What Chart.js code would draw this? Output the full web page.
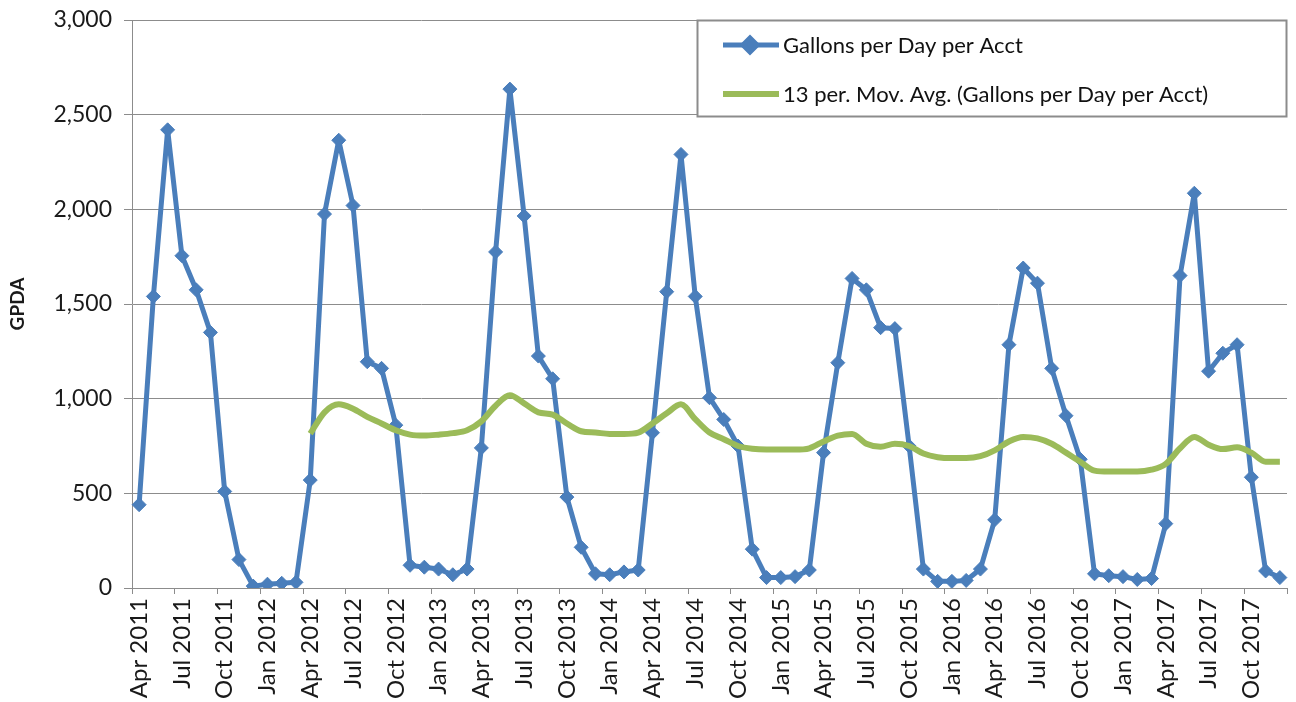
<!DOCTYPE html>
<html>
<head>
<meta charset="utf-8">
<title>GPDA</title>
<script src="https://cdn.jsdelivr.net/npm/chart.js@4.4.1/dist/chart.umd.min.js"></script>
<style>
html, body { margin:0; padding:0; background:#fff; overflow:hidden; }
#wrap { width:1296px; height:702px; position:relative; }
</style>
</head>
<body>
<div id="wrap"><canvas id="gpda-chart" width="1296" height="702"></canvas></div>
<script>
// ---- data ----
const monthNames = ['Jan','Feb','Mar','Apr','May','Jun','Jul','Aug','Sep','Oct','Nov','Dec'];
const years = [2011, 2012, 2013, 2014, 2015, 2016, 2017];
const firstMonth = 3;   // Apr 2011
const lastMonth = 11;   // Dec 2017

const categories = [];
years.forEach((y, yi) => {
    monthNames.forEach((m, mi) => {
        if (yi === 0 && mi < firstMonth) return;
        if (yi === years.length - 1 && mi > lastMonth) return;
        categories.push(m + ' ' + y);
    });
});

const gallonsPerDay = [
    440, 1540, 2420, 1755, 1575, 1350, 510, 150, 10,                  // Apr-Dec 2011
    20, 25, 30, 570, 1975, 2365, 2020, 1195, 1160, 860, 120, 110,      // 2012
    100, 70, 100, 740, 1775, 2635, 1965, 1225, 1105, 480, 215, 75,     // 2013
    70, 85, 95, 820, 1565, 2290, 1540, 1005, 890, 750, 205, 55,        // 2014
    55, 60, 95, 715, 1190, 1635, 1575, 1375, 1370, 750, 100, 35,       // 2015
    35, 40, 100, 360, 1285, 1690, 1610, 1160, 910, 680, 75, 65,        // 2016
    60, 45, 50, 340, 1650, 2085, 1145, 1240, 1285, 585, 90, 55         // 2017
];

const movingAvg = [
    null, null, null, null, null, null, null, null, null,
    null, null, null, 815, 928, 970, 947, 904, 869, 833, 810, 805,
    810, 818, 833, 880, 963, 1018, 975, 928, 916, 869, 828, 821,
    814, 814, 821, 869, 923, 970, 892, 821, 786, 750, 735, 731,
    731, 731, 738, 774, 805, 814, 762, 746, 762, 750, 710, 691,
    686, 686, 696, 727, 774, 798, 790, 762, 715, 667, 620, 615,
    615, 615, 625, 656, 738, 798, 757, 734, 743, 715, 667, 667
];

const yTickMin = 0;
const yTickMax = 3000;
const yTickStep = 500;

const seriesNames = ['Gallons per Day per Acct', '13 per. Mov. Avg. (Gallons per Day per Acct)'];

// ---- look ----
const BLUE = '#4a7ebb';
const GREEN = '#9bbb59';
const GRID = '#8c8c8c';
const FONT = 'Lato, "Open Sans", sans-serif';

Chart.defaults.font.family = FONT;
Chart.defaults.color = '#1a1a1a';

// legend drawn as a box inside the plot, top right
const boxLegend = {
    id: 'boxLegend',
    afterDatasetsDraw(chart) {
        const ctx = chart.ctx;
        const area = chart.chartArea;
        const w = 590, h = 97;
        const x0 = area.right - w, y0 = area.top;
        ctx.save();
        ctx.fillStyle = '#fff';
        ctx.fillRect(x0, y0, w, h);
        ctx.strokeStyle = '#8c8c8c';
        ctx.lineWidth = 2;
        ctx.strokeRect(x0 + 0.5, y0 + 0.5, w - 1, h - 1);

        ctx.font = '22px ' + FONT;
        ctx.textBaseline = 'middle';
        chart.data.datasets.forEach((ds, i) => {
            const cy = y0 + 25 + i * 49;
            ctx.strokeStyle = ds.borderColor;
            ctx.lineWidth = ds.borderWidth;
            ctx.beginPath();
            ctx.moveTo(x0 + 26, cy);
            ctx.lineTo(x0 + 82, cy);
            ctx.stroke();
            if (ds.pointRadius > 0) {
                ctx.fillStyle = ds.pointBackgroundColor;
                Chart.helpers.drawPoint(ctx, {pointStyle: 'rectRot', radius: 7, borderWidth: 1}, x0 + 53, cy);
            }
            ctx.fillStyle = '#111';
            ctx.fillText(ds.label, x0 + 86, cy + 1);
        });
        ctx.restore();
    }
};

new Chart(document.getElementById('gpda-chart'), {
    type: 'line',
    data: {
        labels: categories,
        datasets: [{
            label: seriesNames[0],
            data: gallonsPerDay,
            borderColor: BLUE,
            backgroundColor: BLUE,
            borderWidth: 5,
            borderJoinStyle: 'round',
            pointStyle: 'rectRot',
            pointRadius: 7,
            pointBackgroundColor: BLUE,
            pointBorderColor: BLUE,
            pointBorderWidth: 1,
            tension: 0,
            order: 1
        }, {
            label: seriesNames[1],
            data: movingAvg,
            borderColor: GREEN,
            backgroundColor: GREEN,
            borderWidth: 6,
            pointRadius: 0,
            cubicInterpolationMode: 'monotone',
            spanGaps: false,
            order: 0
        }]
    },
    options: {
        responsive: false,
        animation: false,
        layout: { padding: { top: 20, right: 9, left: 0, bottom: 0 } },
        plugins: {
            legend: { display: false },
            tooltip: { enabled: false }
        },
        scales: {
            x: {
                type: 'category',
                offset: true,
                afterFit: s => { s.height = 114; s.paddingLeft = 0; s.paddingRight = 0; },
                grid: {
                    offset: true,
                    drawOnChartArea: false,
                    drawTicks: true,
                    tickLength: 6,
                    color: c => (c.index === undefined || c.index % 3 === 0) ? GRID : 'rgba(0,0,0,0)'
                },
                border: { display: true, color: GRID, width: 1 },
                ticks: {
                    autoSkip: false,
                    minRotation: 90,
                    maxRotation: 90,
                    padding: 4,
                    font: { size: 24 },
                    callback: function(val, i) { return i % 3 === 0 ? this.getLabelForValue(val) : ''; }
                }
            },
            y: {
                min: yTickMin,
                max: yTickMax,
                afterFit: s => { s.width = 132; s.paddingTop = 0; s.paddingBottom = 0; },
                grid: { color: GRID, drawTicks: true, tickLength: 8 },
                border: { display: true, color: GRID },
                ticks: {
                    stepSize: yTickStep,
                    padding: 12,
                    font: { size: 23 },
                    callback: v => v.toLocaleString('en-US')
                },
                title: {
                    display: true,
                    text: 'GPDA',
                    font: { size: 19, weight: 'bold' },
                    padding: { top: 6, bottom: 0 }
                }
            }
        }
    },
    plugins: [boxLegend]
});
</script>
</body>
</html>
